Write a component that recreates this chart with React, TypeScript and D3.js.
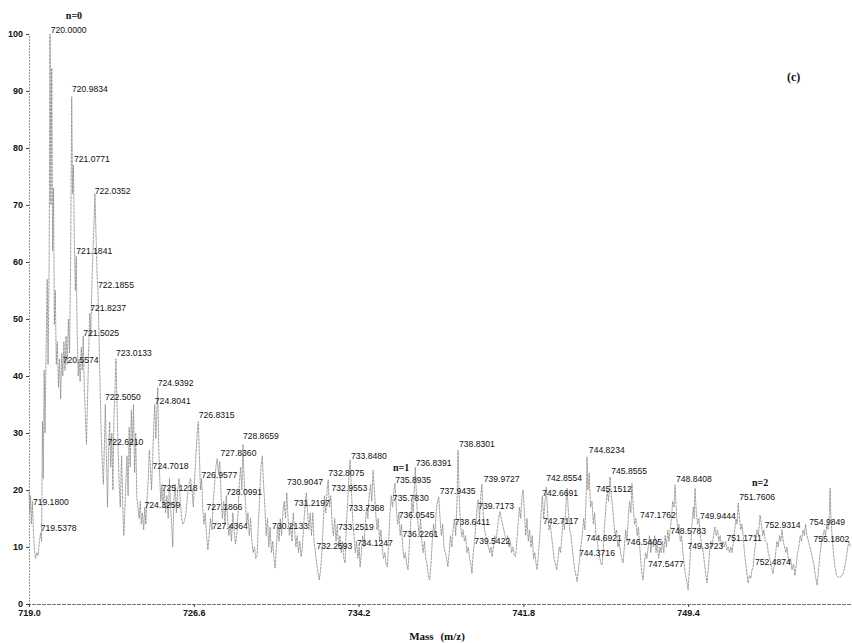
import { useEffect, useRef } from 'react';
import { select, scaleLinear, axisLeft, axisBottom, line, format } from 'd3';

// spectrum trace: [m/z, relative intensity]
const spectrum: [number, number][] = [
  [719.0, 20], [719.03, 16], [719.07, 19], [719.11, 14], [719.16, 18], [719.2, 13], [719.25, 9.5], [719.3, 8],
  [719.36, 9], [719.42, 8.5], [719.48, 11], [719.54, 12.5], [719.58, 11], [719.62, 32], [719.66, 22], [719.7, 41],
  [719.74, 30], [719.79, 45], [719.84, 57], [719.88, 42], [719.93, 60], [719.97, 100], [720.01, 70], [720.05, 94],
  [720.09, 62], [720.13, 73], [720.17, 49], [720.21, 55], [720.26, 42], [720.31, 46], [720.36, 38], [720.41, 43],
  [720.46, 36], [720.51, 44], [720.56, 40], [720.61, 46], [720.66, 41], [720.71, 47], [720.76, 42], [720.82, 50],
  [720.87, 44], [720.92, 60], [720.97, 89], [721.01, 72], [721.05, 77], [721.09, 64], [721.14, 55], [721.18, 61],
  [721.22, 48], [721.27, 40], [721.31, 43], [721.36, 39], [721.41, 45], [721.46, 41], [721.5, 47], [721.55, 38],
  [721.6, 33], [721.65, 28], [721.7, 36], [721.75, 44], [721.8, 51], [721.85, 47], [721.9, 56], [721.95, 62],
  [722.0, 67], [722.04, 72], [722.09, 65], [722.14, 58], [722.18, 55], [722.23, 47], [722.28, 38], [722.33, 30],
  [722.38, 25], [722.43, 21], [722.48, 28], [722.52, 35], [722.57, 26], [722.62, 17], [722.67, 27], [722.72, 32],
  [722.77, 24], [722.82, 30], [722.87, 20], [722.92, 33], [722.97, 38], [723.01, 43], [723.06, 35], [723.11, 27],
  [723.16, 21], [723.21, 17], [723.27, 26], [723.32, 18], [723.37, 12], [723.42, 16], [723.47, 22], [723.52, 26],
  [723.57, 19], [723.62, 31], [723.67, 24], [723.72, 34], [723.77, 28], [723.82, 35], [723.87, 23], [723.92, 30],
  [723.97, 19], [724.02, 17], [724.08, 15], [724.13, 18], [724.18, 14], [724.23, 16], [724.29, 13], [724.34, 17],
  [724.39, 14], [724.44, 18], [724.5, 22], [724.55, 27], [724.6, 24], [724.65, 20], [724.7, 25], [724.75, 31],
  [724.8, 35], [724.85, 29], [724.9, 34], [724.94, 38], [724.98, 28], [725.03, 22], [725.08, 18], [725.13, 21],
  [725.18, 17], [725.24, 20], [725.3, 16], [725.36, 19], [725.42, 15], [725.48, 22], [725.53, 17], [725.58, 14],
  [725.63, 10], [725.68, 18], [725.74, 21], [725.8, 16], [725.86, 20], [725.92, 22], [725.98, 18], [726.04, 15],
  [726.1, 14], [726.17, 14.5], [726.24, 16], [726.31, 19], [726.38, 21], [726.45, 22], [726.52, 20], [726.58, 17],
  [726.64, 22], [726.7, 26], [726.76, 30], [726.81, 32], [726.86, 26], [726.91, 20], [726.96, 22], [727.01, 17],
  [727.07, 14], [727.13, 16], [727.19, 12], [727.25, 9.5], [727.31, 12], [727.37, 15], [727.44, 13], [727.5, 18],
  [727.56, 21], [727.62, 24], [727.68, 25.5], [727.74, 23], [727.8, 25], [727.86, 19], [727.92, 15], [727.98, 18],
  [728.04, 14], [728.1, 19], [728.16, 15], [728.22, 12], [728.28, 14], [728.34, 11], [728.4, 16], [728.46, 13],
  [728.52, 10.5], [728.58, 12], [728.64, 16], [728.7, 21], [728.76, 24], [728.82, 20], [728.87, 28], [728.92, 22],
  [728.98, 18], [729.04, 14], [729.1, 16], [729.16, 12], [729.22, 15], [729.28, 11], [729.34, 9], [729.4, 10],
  [729.46, 8], [729.52, 8.5], [729.58, 14], [729.64, 19], [729.7, 24], [729.76, 26], [729.82, 21], [729.88, 17],
  [729.94, 12], [730.0, 15], [730.06, 10], [730.12, 13.5], [730.18, 9], [730.24, 11], [730.3, 8], [730.35, 6.3],
  [730.41, 10], [730.47, 14], [730.53, 11], [730.59, 15], [730.65, 12], [730.71, 16], [730.77, 18], [730.83, 15],
  [730.89, 19.5], [730.95, 15], [731.01, 12], [731.07, 14], [731.13, 11], [731.19, 16], [731.25, 13], [731.31, 10],
  [731.37, 12], [731.43, 9], [731.49, 11], [731.55, 8.3], [731.61, 10], [731.67, 14], [731.73, 17], [731.79, 19.5],
  [731.85, 16], [731.91, 13], [731.97, 16], [732.03, 12], [732.09, 16], [732.15, 11], [732.21, 9], [732.27, 7],
  [732.33, 5.5], [732.39, 4.2], [732.45, 6], [732.51, 9], [732.57, 14], [732.63, 19], [732.69, 16], [732.75, 20],
  [732.8, 21.8], [732.86, 17], [732.92, 19], [732.98, 14], [733.04, 12], [733.1, 15], [733.16, 11], [733.22, 14],
  [733.28, 10], [733.34, 12], [733.4, 9], [733.46, 11], [733.52, 8], [733.58, 7.2], [733.64, 14], [733.7, 18],
  [733.75, 22], [733.81, 25.3], [733.87, 20], [733.93, 15], [733.99, 12], [734.05, 9], [734.11, 11], [734.17, 8],
  [734.23, 10], [734.27, 6.5], [734.33, 9], [734.39, 12], [734.45, 10], [734.51, 14], [734.57, 17], [734.63, 15],
  [734.69, 19], [734.75, 21], [734.81, 18], [734.87, 23.5], [734.93, 20], [734.99, 16], [735.05, 13], [735.11, 15],
  [735.17, 11], [735.23, 13], [735.29, 10], [735.35, 8], [735.41, 9], [735.47, 7], [735.53, 6.5], [735.59, 11],
  [735.65, 16], [735.71, 19], [735.77, 17], [735.83, 20], [735.88, 21.2], [735.94, 17], [736.0, 14], [736.06, 16],
  [736.12, 12], [736.18, 14], [736.24, 10], [736.3, 8], [736.36, 9], [736.42, 7], [736.48, 6], [736.54, 10],
  [736.6, 14], [736.66, 18], [736.72, 16], [736.78, 21], [736.82, 24], [736.88, 18], [736.94, 14], [737.0, 12],
  [737.06, 15], [737.12, 11], [737.18, 9], [737.24, 11], [737.3, 8], [737.36, 7], [737.42, 5], [737.48, 4.2],
  [737.54, 7], [737.6, 11], [737.66, 14], [737.72, 12], [737.78, 16], [737.84, 18], [737.9, 18.8], [737.96, 15],
  [738.02, 12], [738.08, 14], [738.14, 10], [738.2, 9], [738.26, 8], [738.32, 6.5], [738.38, 9], [738.44, 12],
  [738.5, 10], [738.56, 13], [738.62, 15], [738.68, 12], [738.74, 18], [738.79, 27], [738.84, 19], [738.9, 14],
  [738.96, 11.8], [739.02, 13], [739.08, 11], [739.14, 12], [739.2, 9], [739.26, 10], [739.32, 8], [739.38, 7],
  [739.43, 5.4], [739.49, 9], [739.55, 11], [739.61, 14], [739.67, 17], [739.72, 18.3], [739.78, 15], [739.84, 19],
  [739.89, 21], [739.95, 16], [740.01, 13], [740.07, 12], [740.13, 11], [740.19, 10], [740.25, 9], [740.31, 10],
  [740.36, 8.3], [740.42, 10], [740.48, 12], [740.54, 11], [740.6, 13], [740.66, 15], [740.72, 16.2], [740.78, 15],
  [740.84, 14], [740.9, 13], [740.96, 12], [741.02, 11], [741.08, 12], [741.14, 10], [741.2, 11], [741.26, 9],
  [741.32, 10], [741.38, 8.5], [741.44, 8.3], [741.5, 11], [741.56, 14], [741.62, 17], [741.68, 15], [741.74, 19],
  [741.79, 20], [741.85, 16], [741.91, 12], [741.97, 15], [742.03, 11], [742.09, 13], [742.15, 10], [742.21, 12],
  [742.27, 8], [742.33, 9], [742.39, 7], [742.44, 6], [742.5, 9], [742.56, 12], [742.62, 16], [742.68, 19],
  [742.74, 15], [742.8, 18], [742.86, 20.5], [742.92, 16], [742.98, 13], [743.04, 14], [743.1, 12], [743.16, 10],
  [743.22, 8], [743.28, 7], [743.34, 6], [743.4, 8], [743.46, 10], [743.52, 9], [743.58, 12], [743.64, 15],
  [743.7, 13], [743.76, 17], [743.82, 20.3], [743.88, 16], [743.94, 13], [744.0, 12], [744.05, 10], [744.11, 8],
  [744.17, 6], [744.23, 5], [744.28, 3.9], [744.34, 6], [744.4, 8], [744.46, 10.4], [744.52, 12], [744.58, 15],
  [744.64, 13], [744.7, 19], [744.74, 25.8], [744.78, 20], [744.84, 23], [744.9, 17], [744.97, 18], [745.03, 14],
  [745.09, 16], [745.15, 12], [745.21, 11], [745.27, 9], [745.33, 8], [745.39, 7], [745.43, 6.8], [745.49, 10],
  [745.55, 14], [745.61, 17], [745.67, 20], [745.73, 18], [745.8, 22.3], [745.86, 19], [745.92, 17], [745.98, 14],
  [746.04, 12], [746.1, 13], [746.16, 10], [746.22, 11], [746.28, 9], [746.34, 8], [746.4, 7.2], [746.46, 10],
  [746.52, 13], [746.58, 11], [746.64, 15], [746.7, 18], [746.76, 16], [746.81, 21.2], [746.87, 17], [746.93, 14],
  [746.99, 15], [747.05, 12], [747.11, 13.5], [747.17, 10], [747.23, 7], [747.28, 5], [747.32, 4.2], [747.38, 7],
  [747.44, 9], [747.5, 8], [747.56, 10], [747.62, 12], [747.68, 9], [747.74, 11], [747.8, 10], [747.86, 12],
  [747.92, 9], [747.98, 11], [748.04, 8], [748.1, 10], [748.16, 9], [748.22, 11], [748.28, 9], [748.34, 12],
  [748.4, 10], [748.46, 13], [748.52, 11], [748.57, 13], [748.63, 15], [748.69, 18], [748.75, 17], [748.8, 20.9],
  [748.86, 16], [748.92, 13], [748.98, 14], [749.04, 11], [749.1, 12], [749.16, 9], [749.22, 7], [749.28, 5],
  [749.34, 4], [749.4, 2.5], [749.46, 6], [749.52, 10], [749.58, 14], [749.64, 17], [749.68, 15], [749.72, 20.3],
  [749.78, 16], [749.84, 14], [749.9, 15], [749.96, 12], [750.04, 10], [750.1, 9], [750.16, 7], [750.22, 5],
  [750.27, 3.7], [750.33, 6], [750.39, 9], [750.45, 11], [750.51, 10], [750.57, 12], [750.64, 13.5], [750.7, 12],
  [750.76, 13], [750.82, 11], [750.88, 12], [750.94, 10], [751.01, 11], [751.07, 10], [751.13, 11], [751.19, 9.5],
  [751.25, 10], [751.31, 9], [751.37, 10], [751.43, 9], [751.49, 11], [751.55, 13], [751.61, 15], [751.66, 14],
  [751.71, 17.7], [751.77, 15], [751.83, 13], [751.88, 14], [751.94, 12], [752.0, 9], [752.06, 7], [752.12, 5],
  [752.17, 3.7], [752.23, 5], [752.29, 4.5], [752.35, 6], [752.4, 6.5], [752.46, 9], [752.52, 11], [752.58, 13],
  [752.64, 12], [752.72, 15.6], [752.78, 14], [752.84, 12], [752.9, 13], [752.96, 11], [753.04, 10.7], [753.1, 9],
  [753.16, 8], [753.22, 7], [753.27, 6], [753.32, 5.3], [753.38, 7], [753.44, 9], [753.5, 11], [753.56, 10],
  [753.62, 12], [753.68, 11], [753.73, 13], [753.79, 11], [753.85, 10], [753.91, 9], [753.96, 10], [754.01, 8.3],
  [754.07, 7], [754.13, 8], [754.19, 6], [754.26, 7], [754.33, 5], [754.39, 7], [754.45, 9], [754.51, 10],
  [754.57, 12], [754.63, 11], [754.7, 13], [754.76, 12], [754.82, 14], [754.88, 12], [754.95, 11], [755.02, 10],
  [755.08, 9], [755.14, 8], [755.2, 7], [755.27, 5], [755.35, 3.3], [755.42, 6], [755.49, 9], [755.56, 11],
  [755.62, 12], [755.68, 13], [755.74, 12], [755.8, 14], [755.86, 13], [755.92, 16], [755.95, 20.3], [755.99, 15],
  [756.04, 12], [756.1, 9], [756.17, 6.5], [756.25, 5], [756.33, 4.7], [756.41, 4.7], [756.49, 5], [756.57, 5.5],
  [756.65, 7], [756.73, 9], [756.81, 11], [756.89, 10],
];

// peak annotations: text and the height (intensity) where the label sits
const peakLabels = [
  '720.0000', '720.9834', '721.0771', '722.0352', '721.1841', '722.1855', '721.8237', '721.5025',
  '720.5574', '723.0133', '724.9392', '722.5050', '724.8041', '726.8315', '728.8659', '722.6210',
  '727.8360', '724.7018', '726.9577', '725.1218', '728.0991', '719.1800', '724.3259', '727.1866',
  '719.5378', '727.4364', '730.2133', '730.9047', '731.2197', '733.8480', '732.8075', '732.9553',
  '733.7368', '733.2519', '732.2593', '734.1247', '736.8391', '738.8301', '735.8935', '735.7830',
  '737.9435', '739.9727', '739.7173', '736.0545', '738.6411', '736.2261', '739.5422', '742.8554',
  '742.6691', '742.7117', '744.8234', '745.8555', '745.1512', '748.8408', '747.1762', '749.9444',
  '744.6921', '748.5783', '746.5405', '749.3723', '744.3716', '747.5477', '751.7606', '752.9314',
  '754.9849', '751.1711', '755.1802', '752.4874',
];
const peakLabelHeights = [
  100.2, 89.8, 77.5, 71.9, 61.4, 55.4, 51.4, 47.0,
  42.3, 43.5, 38.2, 35.8, 35.1, 32.6, 28.9, 27.9,
  26.0, 23.7, 22.1, 19.8, 19.1, 17.4, 16.8, 16.5,
  12.8, 13.2, 13.2, 20.9, 17.2, 25.4, 22.5, 19.8,
  16.3, 13.0, 9.6, 10.2, 24.2, 27.5, 21.2, 18.1,
  19.3, 21.4, 16.7, 15.1, 13.9, 11.8, 10.5, 21.6,
  18.9, 14.0, 26.5, 22.8, 19.6, 21.4, 15.1, 14.9,
  11.1, 12.3, 10.4, 9.6, 8.4, 6.5, 18.2, 13.3,
  13.9, 11.1, 10.9, 6.8,
];

// series markers: label, m/z where it starts, height
const seriesNames = ['n=0', 'n=1', 'n=2'];
const seriesMz = [720.7, 735.79, 752.35];
const seriesHeights = [102.6, 23.4, 20.7];

const yTicks = [0, 10, 20, 30, 40, 50, 60, 70, 80, 90, 100];
const xTicks = [719.0, 726.6, 734.2, 741.8, 749.4];

const W = 852;
const H = 643;
const M = { top: 34, right: 0, bottom: 39, left: 29 };

const render = (el: SVGSVGElement) => {
  const svg = select(el);
  svg.selectAll('*').remove();

  const x = scaleLinear().domain([719.0, 756.96]).range([M.left, W - M.right]);
  const y = scaleLinear().domain([0, 100]).range([H - M.bottom, M.top]);

  // Y axis
  const gy = svg
    .append('g')
    .attr('transform', `translate(${M.left},0)`)
    .call(axisLeft(y).tickValues(yTicks).tickSize(3).tickPadding(3));
  gy.select('.domain').attr('stroke', '#999').attr('stroke-dasharray', '2,1');
  gy.selectAll('.tick line').attr('stroke', '#444');
  gy.selectAll('.tick text')
    .attr('font-family', 'Arial, "Liberation Sans", sans-serif')
    .attr('font-size', 9)
    .attr('font-weight', 'bold')
    .attr('fill', '#111');

  // X axis
  const gx = svg
    .append('g')
    .attr('transform', `translate(0,${H - M.bottom})`)
    .call(axisBottom(x).tickValues(xTicks).tickFormat(format('.1f')).tickSize(3).tickPadding(3));
  gx.select('.domain').attr('stroke', '#777').attr('stroke-dasharray', '4,1');
  gx.selectAll('.tick line').attr('stroke', '#444');
  gx.selectAll('.tick text')
    .attr('font-family', 'Arial, "Liberation Sans", sans-serif')
    .attr('font-size', 9)
    .attr('font-weight', 'bold')
    .attr('fill', '#111');

  // spectrum
  const path = line<[number, number]>()
    .x((d) => x(d[0]))
    .y((d) => y(d[1]));
  svg
    .append('path')
    .datum(spectrum)
    .attr('d', path)
    .attr('fill', 'none')
    .attr('stroke', '#8a8a8a')
    .attr('stroke-width', 0.8)
    .attr('stroke-dasharray', '3,0.6');

  // peak labels
  svg
    .append('g')
    .selectAll('text')
    .data(peakLabels)
    .enter()
    .append('text')
    .attr('x', (d) => x(+d))
    .attr('y', (d, i) => y(peakLabelHeights[i]))
    .attr('font-family', 'Arial, "Liberation Sans", sans-serif')
    .attr('font-size', 8.6)
    .attr('fill', '#111')
    .text((d) => d);

  // n= markers
  svg
    .append('g')
    .selectAll('text')
    .data(seriesNames)
    .enter()
    .append('text')
    .attr('x', (d, i) => x(seriesMz[i]))
    .attr('y', (d, i) => y(seriesHeights[i]))
    .attr('font-family', '"Liberation Serif", "Times New Roman", serif')
    .attr('font-size', 10)
    .attr('font-weight', 'bold')
    .attr('fill', '#111')
    .text((d) => d);

  // panel tag
  svg
    .append('text')
    .attr('x', 787)
    .attr('y', 81)
    .attr('font-family', '"Liberation Serif", "Times New Roman", serif')
    .attr('font-size', 12)
    .attr('font-weight', 'bold')
    .attr('fill', '#111')
    .text('(c)');

  // axis title
  svg
    .append('text')
    .attr('x', 437)
    .attr('y', 640)
    .attr('text-anchor', 'middle')
    .attr('font-family', '"Liberation Serif", "Times New Roman", serif')
    .attr('font-size', 11)
    .attr('font-weight', 'bold')
    .attr('word-spacing', 4)
    .attr('fill', '#111')
    .text('Mass (m/z)');
};

export default function App() {
  const ref = useRef<SVGSVGElement>(null);

  useEffect(() => {
    if (ref.current) render(ref.current);
  }, []);

  return (
    <svg
      ref={ref}
      width={W}
      height={H}
      style={{ position: 'absolute', left: 0, top: 0, background: '#fff' }}
    />
  );
}
